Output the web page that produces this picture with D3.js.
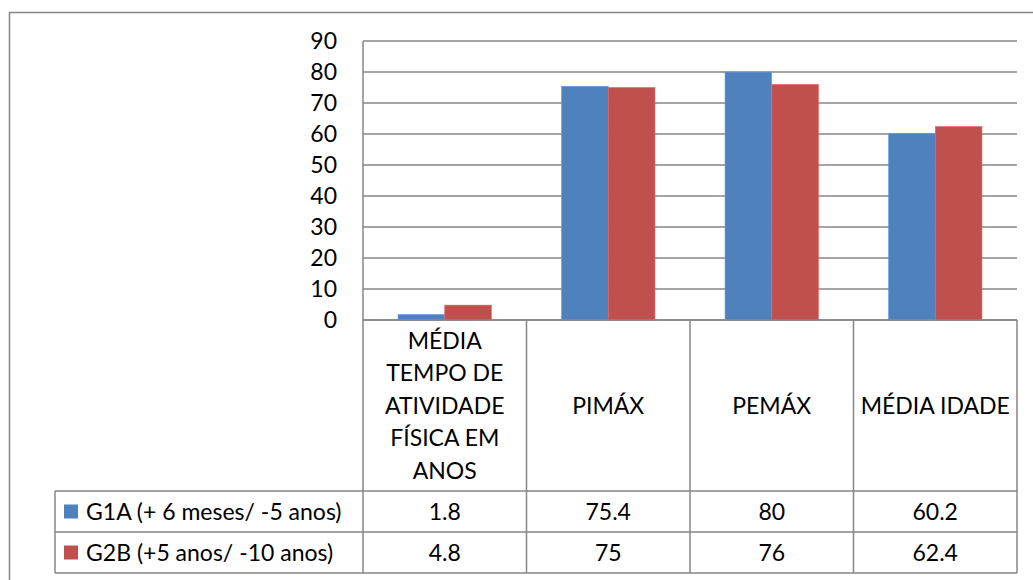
<!DOCTYPE html>
<html>
<head>
<meta charset="utf-8">
<script src="https://cdn.jsdelivr.net/npm/d3@7"></script>
<style>
  body { margin: 0; background: #fff; }
  text { font-family: Lato, "Liberation Sans", sans-serif; fill: #000; }
</style>
</head>
<body>
<div id="chart"></div>
<script>
// dados do gráfico
const categories = ['MÉDIA\nTEMPO DE\nATIVIDADE\nFÍSICA EM\nANOS', 'PIMÁX', 'PEMÁX', 'MÉDIA IDADE'];
const seriesNames = ['G1A (+ 6 meses/ -5 anos)', 'G2B (+5 anos/ -10 anos)'];
const g1aValues = [1.8, 75.4, 80, 60.2];
const g2bValues = [4.8, 75, 76, 62.4];
const seriesColors = ['#4F81BD', '#C0504D'];
const yTicks = [0, 10, 20, 30, 40, 50, 60, 70, 80, 90];

const width = 1033;
const height = 580;
const plotLeft = 363, plotRight = 1017, plotTop = 41, plotBottom = 320;
const headerBottom = 491, rowH = 41, legendLeft = 55;
const gridColor = '#868686';
const fontSize = 23;

const series = [
  { name: seriesNames[0], values: g1aValues, color: seriesColors[0] },
  { name: seriesNames[1], values: g2bValues, color: seriesColors[1] },
];

const svg = d3.select('#chart')
  .append('svg')
  .attr('width', width)
  .attr('height', height);

// borda externa do gráfico (cortada à direita e embaixo)
svg.append('rect')
  .attr('x', 9.5).attr('y', 12.5)
  .attr('width', 1040).attr('height', 600)
  .attr('fill', 'none')
  .attr('stroke', gridColor)
  .attr('stroke-width', 1.5);

const x0 = d3.scaleBand().domain(d3.range(categories.length)).range([plotLeft, plotRight]).padding(0);
const x1 = d3.scaleBand().domain(d3.range(series.length)).range([0, x0.bandwidth()])
  .paddingInner(0).paddingOuter(0.75);
const y = d3.scaleLinear().domain([0, 90]).range([plotBottom, plotTop]);

// linhas de grade
svg.append('g')
  .selectAll('line')
  .data(yTicks)
  .enter()
  .append('line')
  .attr('x1', plotLeft).attr('x2', plotRight)
  .attr('y1', (d) => y(d)).attr('y2', (d) => y(d))
  .attr('stroke', gridColor)
  .attr('stroke-width', 1.5);

// eixo Y
const yAxis = svg.append('g')
  .attr('transform', `translate(${plotLeft - 26},0)`)
  .call(d3.axisLeft(y).tickValues(yTicks).tickSize(0).tickPadding(0).tickFormat(d3.format('d')));
yAxis.select('.domain').remove();
yAxis.selectAll('text')
  .attr('font-size', fontSize)
  .style('font-family', 'Lato, "Liberation Sans", sans-serif')
  .attr('fill', '#000');

// barras
const groups = svg.append('g')
  .selectAll('g')
  .data(series)
  .enter()
  .append('g')
  .attr('fill', (d) => d.color);

groups.each(function (s, si) {
  d3.select(this)
    .selectAll('rect')
    .data(s.values)
    .enter()
    .append('rect')
    .attr('x', (d, i) => x0(i) + x1(si))
    .attr('y', (d) => y(d))
    .attr('width', x1.bandwidth())
    .attr('height', (d) => y(0) - y(d))
    .attr('stroke', d3.color(s.color).brighter(0.6))
    .attr('stroke-width', 0.6);
});

// tabela de dados
const tableBottom = headerBottom + rowH * series.length;
const tbl = svg.append('g')
  .attr('stroke', gridColor)
  .attr('stroke-width', 1.5);

tbl.append('line').attr('x1', plotLeft).attr('x2', plotRight).attr('y1', plotBottom).attr('y2', plotBottom);
d3.range(series.length + 1).forEach((r) => {
  const yy = headerBottom + r * rowH;
  tbl.append('line').attr('x1', legendLeft).attr('x2', plotRight).attr('y1', yy).attr('y2', yy);
});
tbl.append('line').attr('x1', legendLeft).attr('x2', legendLeft).attr('y1', headerBottom).attr('y2', tableBottom);
tbl.append('line').attr('x1', plotLeft).attr('x2', plotLeft).attr('y1', plotTop).attr('y2', tableBottom);
d3.range(categories.length).forEach((i) => {
  const xx = x0(i) + x0.bandwidth();
  tbl.append('line').attr('x1', xx).attr('x2', xx).attr('y1', plotBottom).attr('y2', tableBottom);
});

// rótulos das categorias
const lineH = 32.5;
categories.forEach((c, i) => {
  const lines = c.split('\n');
  const cy = (plotBottom + headerBottom) / 2;
  const t = svg.append('text')
    .attr('text-anchor', 'middle')
    .attr('font-size', fontSize);
  lines.forEach((ln, k) => {
    t.append('tspan')
      .attr('x', x0(i) + x0.bandwidth() / 2)
      .attr('y', cy + (k - (lines.length - 1) / 2) * lineH)
      .attr('dy', '0.35em')
      .text(ln);
  });
});

// linhas de valores e legenda
series.forEach((s, si) => {
  const cy = headerBottom + si * rowH + rowH / 2;
  svg.append('rect')
    .attr('x', 64).attr('y', cy - 7)
    .attr('width', 14).attr('height', 14)
    .attr('fill', s.color);
  svg.append('text')
    .attr('x', 86).attr('y', cy).attr('dy', '0.35em')
    .attr('font-size', fontSize)
    .text(s.name);
  s.values.forEach((v, i) => {
    svg.append('text')
      .attr('x', x0(i) + x0.bandwidth() / 2)
      .attr('y', cy).attr('dy', '0.35em')
      .attr('text-anchor', 'middle')
      .attr('font-size', fontSize)
      .text(v);
  });
});
</script>
</body>
</html>
